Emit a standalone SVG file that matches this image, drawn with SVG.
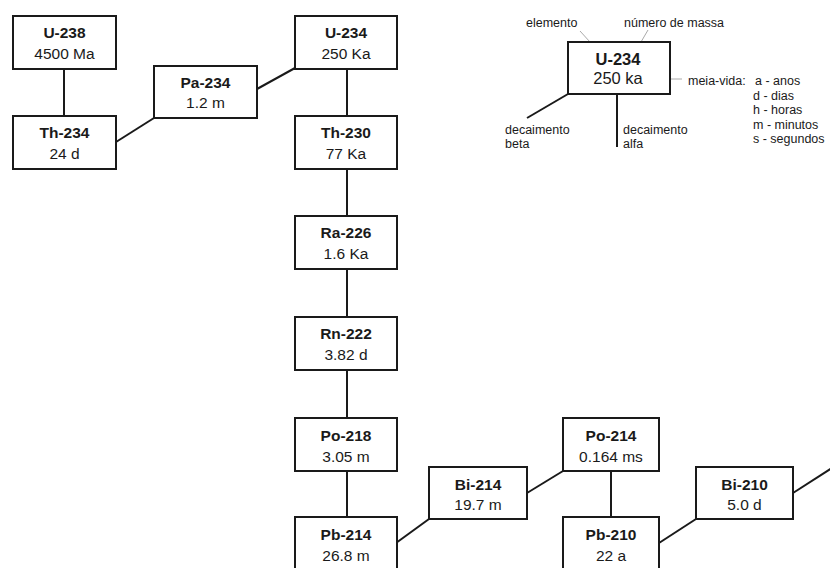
<svg xmlns="http://www.w3.org/2000/svg" width="830" height="568" viewBox="0 0 830 568">
<style>
.box{fill:#fff;stroke:#1a1a1a;stroke-width:2}
.nm{font-family:"Liberation Sans",Arial,sans-serif;font-weight:bold;font-size:15.5px;fill:#1a1a1a;text-anchor:middle}
.val{font-family:"Liberation Sans",Arial,sans-serif;font-size:15.5px;fill:#1a1a1a;text-anchor:middle}
.ln{stroke:#1a1a1a;stroke-width:2;fill:none}
.thin{stroke:#aaa;stroke-width:1;fill:none}
.sm{font-family:"Liberation Sans",Arial,sans-serif;font-size:12.5px;fill:#1a1a1a}
.lgn{font-family:"Liberation Sans",Arial,sans-serif;font-weight:bold;font-size:16.5px;fill:#1a1a1a;text-anchor:middle}
.lgv{font-family:"Liberation Sans",Arial,sans-serif;font-size:16.5px;fill:#1a1a1a;text-anchor:middle}
</style>
<rect width="830" height="568" fill="#fff"/>
<g id="connectors">
<line class="ln" x1="64" y1="69" x2="64" y2="116"/>
<line class="ln" x1="116" y1="142" x2="154" y2="118"/>
<line class="ln" x1="257" y1="89" x2="295" y2="68"/>
<line class="ln" x1="347" y1="69" x2="347" y2="116"/>
<line class="ln" x1="347" y1="169" x2="347" y2="216"/>
<line class="ln" x1="347" y1="269" x2="347" y2="317"/>
<line class="ln" x1="347" y1="370" x2="347" y2="418"/>
<line class="ln" x1="347" y1="471" x2="347" y2="517"/>
<line class="ln" x1="396" y1="543" x2="429" y2="519"/>
<line class="ln" x1="527" y1="493" x2="563" y2="471"/>
<line class="ln" x1="611" y1="471" x2="611" y2="517"/>
<line class="ln" x1="659" y1="543" x2="696" y2="519"/>
<line class="ln" x1="793" y1="493" x2="835" y2="466"/>
</g>
<g id="U-238"><rect class="box" x="13" y="16" width="103" height="53"/><text class="nm" x="64.5" y="38">U-238</text><text class="val" x="64.5" y="59">4500 Ma</text></g>
<g id="Th-234"><rect class="box" x="13" y="116" width="103" height="53"/><text class="nm" x="64.5" y="138">Th-234</text><text class="val" x="64.5" y="159">24 d</text></g>
<g id="Pa-234"><rect class="box" x="154" y="66" width="103" height="52"/><text class="nm" x="205.5" y="88">Pa-234</text><text class="val" x="205.5" y="108">1.2 m</text></g>
<g id="U-234"><rect class="box" x="295" y="16" width="102" height="53"/><text class="nm" x="346" y="38">U-234</text><text class="val" x="346" y="59">250 Ka</text></g>
<g id="Th-230"><rect class="box" x="295" y="116" width="102" height="53"/><text class="nm" x="346" y="138">Th-230</text><text class="val" x="346" y="159">77 Ka</text></g>
<g id="Ra-226"><rect class="box" x="295" y="216" width="102" height="53"/><text class="nm" x="346" y="238">Ra-226</text><text class="val" x="346" y="259">1.6 Ka</text></g>
<g id="Rn-222"><rect class="box" x="295" y="317" width="102" height="53"/><text class="nm" x="346" y="339">Rn-222</text><text class="val" x="346" y="360">3.82 d</text></g>
<g id="Po-218"><rect class="box" x="295" y="418" width="102" height="53"/><text class="nm" x="346" y="441">Po-218</text><text class="val" x="346" y="462">3.05 m</text></g>
<g id="Pb-214"><rect class="box" x="295" y="517" width="102" height="53"/><text class="nm" x="346" y="540">Pb-214</text><text class="val" x="346" y="561">26.8 m</text></g>
<g id="Bi-214"><rect class="box" x="429" y="467" width="98" height="52"/><text class="nm" x="478" y="490">Bi-214</text><text class="val" x="478" y="510">19.7 m</text></g>
<g id="Po-214"><rect class="box" x="563" y="418" width="96" height="53"/><text class="nm" x="611" y="441">Po-214</text><text class="val" x="611" y="462">0.164 ms</text></g>
<g id="Pb-210"><rect class="box" x="563" y="517" width="96" height="53"/><text class="nm" x="611" y="540">Pb-210</text><text class="val" x="611" y="561">22 a</text></g>
<g id="Bi-210"><rect class="box" x="696" y="467" width="97" height="52"/><text class="nm" x="744.5" y="490">Bi-210</text><text class="val" x="744.5" y="510">5.0 d</text></g>
<g id="legend">
<line class="thin" x1="580" y1="31" x2="590" y2="42"/>
<line class="thin" x1="648" y1="30" x2="641" y2="42"/>
<line class="thin" x1="645" y1="79" x2="682" y2="79"/>
<rect class="box" x="568" y="42" width="102" height="52"/>
<text class="lgn" x="618" y="65">U-234</text>
<text class="lgv" x="618" y="84">250 ka</text>
<line class="ln" x1="568" y1="94" x2="527" y2="118"/>
<line class="ln" x1="617" y1="94" x2="617" y2="147"/>
<text class="sm" x="526" y="27">elemento</text>
<text class="sm" x="624" y="27">número de massa</text>
<text class="sm" x="505" y="134">decaimento</text>
<text class="sm" x="505" y="148">beta</text>
<text class="sm" x="623" y="134">decaimento</text>
<text class="sm" x="623" y="148">alfa</text>
<text class="sm" x="688" y="85"><tspan>meia-vida: </tspan><tspan x="755">a - anos</tspan></text>
<text class="sm" x="753" y="100">d - dias</text>
<text class="sm" x="753" y="114">h - horas</text>
<text class="sm" x="753" y="129">m - minutos</text>
<text class="sm" x="753" y="143">s - segundos</text>
</g>
</svg>
